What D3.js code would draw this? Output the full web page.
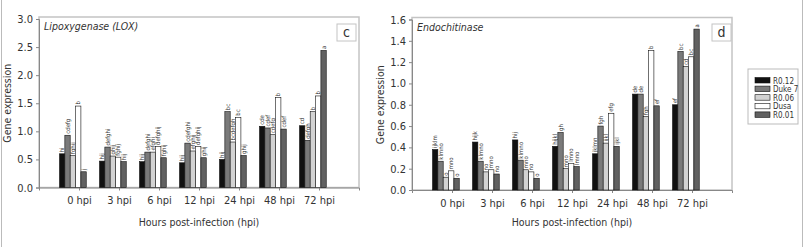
<!DOCTYPE html>
<html>
<head>
<meta charset="utf-8">
<script src="https://cdnjs.cloudflare.com/ajax/libs/d3/7.8.5/d3.min.js"></script>
<style>
  body { margin: 0; background: #fff; }
  text { font-family: "Liberation Sans Narrow", "DejaVu Sans Condensed", "Liberation Sans", sans-serif; font-stretch: condensed; fill: #333; }
</style>
</head>
<body>
<div id="chart"></div>
<script>
var times = ["0 hpi", "3 hpi", "6 hpi", "12 hpi", "24 hpi", "48 hpi", "72 hpi"];
var lines = ["R0.12", "Duke 7", "R0.06", "Dusa", "R0.01"];
var colors = ["#111111", "#7a7a7a", "#d2d2d2", "#ffffff", "#616161"];

// Lipoxygenase (LOX), one array per line, values per time
var loxR012 = [0.60, 0.47, 0.46, 0.44, 0.50, 1.09, 1.10];
var loxDuke7 = [0.93, 0.72, 0.63, 0.79, 1.35, 1.06, 0.84];
var loxR006 = [0.57, 0.56, 0.63, 0.65, 0.81, 0.94, 1.35];
var loxDusa = [1.45, 0.54, 0.73, 0.73, 1.25, 1.60, 1.63];
var loxR001 = [0.28, 0.46, 0.53, 0.53, 0.57, 1.04, 2.44];
var loxLetters = [
  ["hi", "hij", "hij", "hij", "hij", "cde", "cd"],
  ["cdefg", "defghi", "defghi", "cdefghi", "bc", "cdef", "defgh"],
  ["fghij", "ghij", "efghi", "efghij", "bcdefgh", "cdefg", "b"],
  ["b", "fghij", "defghij", "defghij", "bc", "b", "b"],
  ["j", "hij", "fghij", "ghij", "ghij", "cdef", "a"]
];

// Endochitinase
var endR012 = [0.38, 0.45, 0.47, 0.41, 0.34, 0.90, 0.80];
var endDuke7 = [0.27, 0.27, 0.28, 0.54, 0.60, 0.90, 1.30];
var endR006 = [0.12, 0.17, 0.19, 0.20, 0.44, 0.69, 1.16];
var endDusa = [0.18, 0.19, 0.17, 0.25, 0.72, 1.31, 1.25];
var endR001 = [0.11, 0.15, 0.11, 0.22, 0.41, 0.79, 1.51];
var endLetters = [
  ["ijklm", "hijk", "hij", "hijkl", "jklmn", "de", "ef"],
  ["klmno", "klmno", "klmno", "gh", "fgh", "de", "bc"],
  ["o", "no", "mno", "mno", "ijkl", "fgh", "cd"],
  ["mno", "mno", "no", "lmno", "efg", "b", "bc"],
  ["o", "no", "o", "lmno", "ijkl", "ef", "a"]
];

var W = 804, H = 247;
var svg = d3.select("#chart").append("svg").attr("width", W).attr("height", H);

// outer frame lines
svg.append("line").attr("x1", 1.5).attr("x2", 1.5).attr("y1", 0).attr("y2", H).attr("stroke", "#bbb");
svg.append("line").attr("x1", 802.5).attr("x2", 802.5).attr("y1", 0).attr("y2", H).attr("stroke", "#bbb");

function panel(opt) {
  var x = d3.scaleLinear().domain([0, 8]).range([opt.left, opt.left + 320]);
  var y = d3.scaleLinear().domain([0, opt.ymax]).range([opt.bottom, opt.top]);
  var g = svg.append("g");

  // frame
  g.append("rect")
    .attr("x", opt.left).attr("y", opt.top - 2)
    .attr("width", 320).attr("height", opt.bottom - opt.top + 2)
    .attr("fill", "none").attr("stroke", "#c4c4c4").attr("stroke-width", 1.5);

  // y axis
  var ya = g.append("g").attr("transform", `translate(${opt.left},0)`)
    .call(d3.axisLeft(y).tickValues(opt.yticks).tickFormat(d3.format(".1f")).tickSize(3).tickPadding(3));
  ya.select(".domain").attr("stroke", "#888");
  ya.selectAll(".tick line").attr("stroke", "#888");
  ya.selectAll("text").style("font-size", "11px").attr("fill", "#444");

  // x axis
  var xa = g.append("g").attr("transform", `translate(0,${opt.bottom})`)
    .call(d3.axisBottom(x).tickValues(d3.range(1, 8)).tickFormat(i => times[i - 1]).tickSize(3).tickPadding(6));
  xa.select(".domain").attr("stroke", "#888");
  xa.selectAll(".tick line").attr("stroke", "#888");
  xa.selectAll("text").style("font-size", "11px").attr("fill", "#444");

  // bars
  var bw = 5.35;
  opt.series.forEach(function (vals, s) {
    var bg = g.append("g");
    bg.selectAll("rect").data(vals).join("rect")
      .attr("x", (d, i) => x(i + 1) - 19.5 + s * bw)
      .attr("y", d => y(d))
      .attr("width", bw)
      .attr("height", d => opt.bottom - y(d))
      .attr("fill", colors[s])
      .attr("stroke", "#111").attr("stroke-width", 0.6);
    bg.selectAll("text").data(vals).join("text")
      .attr("transform", (d, i) => `translate(${x(i + 1) - 19.5 + s * bw + bw / 2 + 2},${y(d) - 1.5}) rotate(-90)`)
      .attr("text-anchor", "start")
      .style("font-size", "6px")
      .attr("fill", "#333")
      .text((d, i) => opt.letters[s][i]);
  });

  // title
  g.append("text").attr("x", opt.left + 5).attr("y", opt.top + 11)
    .style("font-size", "10.5px").style("font-style", "italic").attr("fill", "#333")
    .text(opt.title);

  // panel letter
  g.append("rect").attr("x", opt.tag[0]).attr("y", opt.tag[1]).attr("width", 19).attr("height", 17)
    .attr("fill", "#fff").attr("stroke", "#c4c4c4");
  g.append("text").attr("x", opt.tag[0] + 9.5).attr("y", opt.tag[1] + 13).attr("text-anchor", "middle")
    .style("font-size", "14px").attr("fill", "#333").text(opt.letter);

  // axis titles
  g.append("text")
    .attr("transform", `translate(${opt.left - 28},${(opt.top + opt.bottom) / 2}) rotate(-90)`)
    .attr("text-anchor", "middle").style("font-size", "10.5px").attr("fill", "#444")
    .text("Gene expression");
  g.append("text").attr("x", opt.left + 160).attr("y", 226).attr("text-anchor", "middle")
    .style("font-size", "10.5px").attr("fill", "#444")
    .text("Hours post-infection (hpi)");
}

panel({
  left: 39, top: 19, bottom: 187.5, ymax: 3.0,
  yticks: [0, 0.5, 1, 1.5, 2, 2.5, 3],
  series: [loxR012, loxDuke7, loxR006, loxDusa, loxR001],
  letters: loxLetters,
  title: "Lipoxygenase (LOX)", letter: "c", tag: [337, 24]
});

panel({
  left: 412, top: 19.5, bottom: 190, ymax: 1.6,
  yticks: [0, 0.2, 0.4, 0.6, 0.8, 1.0, 1.2, 1.4, 1.6],
  series: [endR012, endDuke7, endR006, endDusa, endR001],
  letters: endLetters,
  title: "Endochitinase", letter: "d", tag: [712, 24]
});

// legend
var lg = svg.append("g");
lg.append("rect").attr("x", 748).attr("y", 69).attr("width", 50).attr("height", 55)
  .attr("fill", "#fff").attr("stroke", "#bbb");
var ly = d3.scaleBand().domain(lines).range([76, 119]);
lines.forEach(function (name, i) {
  lg.append("rect").attr("x", 755).attr("y", ly(name) + 1.5).attr("width", 15).attr("height", 5.5)
    .attr("fill", colors[i]).attr("stroke", "#111").attr("stroke-width", 0.6);
  lg.append("text").attr("x", 773).attr("y", ly(name) + 7.5)
    .style("font-size", "8px").attr("fill", "#333").text(name);
});
</script>
</body>
</html>
